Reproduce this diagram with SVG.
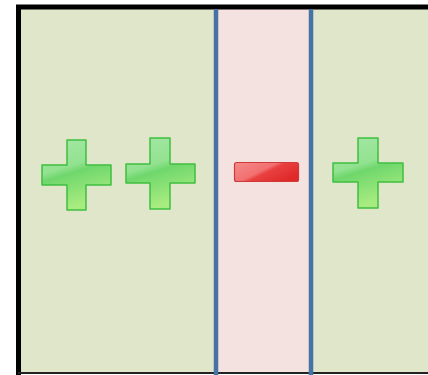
<svg xmlns="http://www.w3.org/2000/svg" width="428" height="375" viewBox="0 0 428 375">
<defs>
<linearGradient id="gp" x1="0" y1="0" x2="0.3" y2="1">
<stop offset="0" stop-color="#a6e8a6"/>
<stop offset="0.45" stop-color="#92e290"/>
<stop offset="0.55" stop-color="#6fd76c"/>
<stop offset="1" stop-color="#a8ec80"/>
</linearGradient>
<linearGradient id="gm" x1="0" y1="0" x2="1" y2="0.6">
<stop offset="0" stop-color="#f58a8a"/>
<stop offset="0.5" stop-color="#f27070"/>
<stop offset="0.6" stop-color="#e94040"/>
<stop offset="1" stop-color="#e02a2a"/>
</linearGradient>
<style>
.plus{fill:url(#gp);stroke:#3fbe3f;stroke-width:1.5;stroke-linejoin:round}
.minus{fill:url(#gm);stroke:#cc3a3a;stroke-width:1.2}
.div{stroke:#4672a4;stroke-width:4.5}
</style>
</defs>
<rect x="18" y="7" width="410" height="366" fill="#dfe6ca"/>
<rect x="218" y="7" width="92" height="366" fill="#f4e2e0"/>
<path d="M18.5 375 V7 H428" fill="none" stroke="#000" stroke-width="5"/>
<line x1="18" y1="373" x2="428" y2="373" stroke="#222" stroke-width="2"/>
<g id="dividers">
<line class="div" x1="216" y1="9" x2="216" y2="375"/>
<line class="div" x1="311" y1="9" x2="311" y2="375"/>
</g>
<g id="plus1">
<path class="plus" d="M67 140 H86 V165 H111 V185 H86 V210 H67 V185 H42 V165 H67 Z"/>
</g>
<g id="plus2">
<path class="plus" d="M150 138 H170 V164 H195 V183 H170 V209 H150 V183 H126 V164 H150 Z"/>
</g>
<g id="minus">
<rect class="minus" x="234.5" y="162.5" width="64" height="19" rx="2"/>
</g>
<g id="plus3">
<path class="plus" d="M358 138 H378 V163 H403 V182 H378 V208 H358 V182 H333 V163 H358 Z"/>
</g>
</svg>
